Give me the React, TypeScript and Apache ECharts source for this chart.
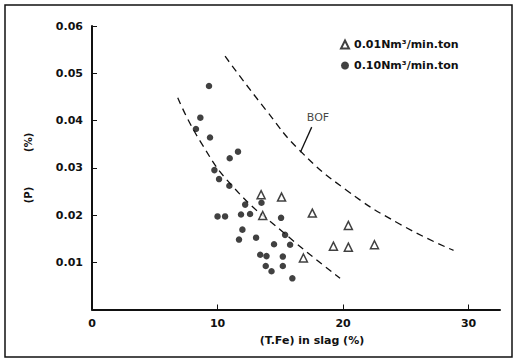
import React, { useEffect, useRef } from "react";
import * as echarts from "echarts";

const xTickLabels = [0, 10, 20, 30];
const yTickLabels = [0.01, 0.02, 0.03, 0.04, 0.05, 0.06];

const lowFlowLabel = "0.01Nm³/min.ton";
const highFlowLabel = "0.10Nm³/min.ton";

// triangles: 0.01 Nm3/min.ton
const lowFlowPoints: number[][] = [
  [13.47, 0.0243],
  [15.1, 0.0238],
  [13.6, 0.0199],
  [17.55, 0.0204],
  [20.42, 0.0178],
  [19.23, 0.0134],
  [20.42, 0.0132],
  [22.5, 0.0137],
  [16.84, 0.0109],
];

// dots: 0.10 Nm3/min.ton
const highFlowPoints: number[][] = [
  [9.32, 0.0473],
  [8.63, 0.0406],
  [8.28, 0.0382],
  [9.4, 0.0364],
  [11.63, 0.0334],
  [10.97, 0.032],
  [9.75, 0.0295],
  [10.12, 0.0276],
  [10.94, 0.0262],
  [12.2, 0.0222],
  [13.5, 0.0226],
  [10.0, 0.0197],
  [10.6, 0.0197],
  [11.87, 0.0201],
  [12.59, 0.0202],
  [15.06, 0.0194],
  [11.98, 0.0169],
  [11.71, 0.0148],
  [13.07, 0.0152],
  [15.38, 0.0158],
  [14.5, 0.0138],
  [15.78, 0.0137],
  [13.4, 0.0116],
  [13.9, 0.0113],
  [15.2, 0.0112],
  [13.84, 0.0092],
  [14.3, 0.0081],
  [15.2, 0.0092],
  [15.96, 0.0066],
];

const fitCurve: number[][] = [
  [6.83, 0.0448],
  [8.6, 0.0357],
  [11.26, 0.0259],
  [15.38, 0.016],
  [19.76, 0.0066],
];

const bofCurve: number[][] = [
  [10.6, 0.0536],
  [13.92, 0.042],
  [16.57, 0.0336],
  [20.3, 0.0252],
  [24.5, 0.0181],
  [28.8, 0.0125],
];

const bofLabelPoint: number[][] = [[18.0, 0.0406]];
const bofLeader: number[][] = [
  [17.5, 0.0386],
  [16.6, 0.0333],
];

const FONT = "DejaVu Sans";
const INK = "#111111";

export default function App() {
  const ref = useRef<HTMLDivElement>(null);
  useEffect(() => {
    if (!ref.current) return;
    const chart = echarts.init(ref.current, null, { renderer: "svg" });
    chart.setOption({
      animation: false,
      backgroundColor: "#ffffff",
      grid: { left: 92, right: 14, top: 26, bottom: 50.5 },
      legend: {
        orient: "vertical",
        left: 335,
        top: 34,
        itemWidth: 8,
        itemHeight: 8,
        itemGap: 10,
        textStyle: { fontFamily: FONT, fontSize: 11, fontWeight: "bold", color: INK },
        data: [
          { name: lowFlowLabel, icon: "triangle" },
          { name: highFlowLabel, icon: "circle" },
        ],
      },
      xAxis: {
        type: "value",
        min: 0,
        max: 32.5,
        interval: 10,
        splitLine: { show: false },
        axisLine: { show: true, onZero: false, lineStyle: { color: INK, width: 2 } },
        axisTick: { show: true, inside: true, length: 5, customValues: [10, 20, 30], lineStyle: { color: INK, width: 1 } },
        axisLabel: {
          customValues: xTickLabels,
          margin: 8,
          fontFamily: FONT,
          fontSize: 11,
          fontWeight: "bold",
          color: INK,
        },
      },
      yAxis: {
        type: "value",
        min: 0,
        max: 0.06,
        interval: 0.01,
        splitLine: { show: false },
        axisLine: { show: true, onZero: false, lineStyle: { color: INK, width: 2 } },
        axisTick: { show: true, inside: true, length: 5, customValues: yTickLabels, lineStyle: { color: INK, width: 1 } },
        axisLabel: {
          customValues: yTickLabels,
          margin: 9,
          fontFamily: FONT,
          fontSize: 11,
          fontWeight: "bold",
          color: INK,
          formatter: (v: number) => v.toFixed(2),
        },
      },
      series: [
        {
          name: lowFlowLabel,
          type: "scatter",
          symbol: "triangle",
          symbolSize: 8,
          itemStyle: { color: "#ffffff", borderColor: INK, borderWidth: 1.5 },
          data: lowFlowPoints,
          z: 5,
        },
        {
          name: highFlowLabel,
          type: "scatter",
          symbol: "circle",
          symbolSize: 6.5,
          itemStyle: { color: INK },
          data: highFlowPoints,
          z: 5,
        },
        {
          name: "fit",
          type: "line",
          smooth: true,
          showSymbol: false,
          symbol: "none",
          lineStyle: { color: INK, width: 1.3, type: [7, 5] },
          data: fitCurve,
        },
        {
          name: "BOF",
          type: "line",
          smooth: true,
          showSymbol: false,
          symbol: "none",
          lineStyle: { color: INK, width: 1.3, type: [7, 5] },
          data: bofCurve,
        },
        {
          name: "bofLeader",
          type: "line",
          showSymbol: false,
          symbol: "none",
          lineStyle: { color: INK, width: 1.3 },
          data: bofLeader,
        },
        {
          name: "bofLabel",
          type: "scatter",
          symbol: "rect",
          symbolSize: 2,
          itemStyle: { color: "rgba(0,0,0,0)" },
          data: bofLabelPoint,
          label: {
            show: true,
            position: "inside",
            formatter: "BOF",
            fontFamily: FONT,
            fontSize: 11,
            color: INK,
          },
          z: 6,
        },
      ],
      graphic: [
        {
          type: "rect",
          shape: { x: 5, y: 5, width: 507, height: 352 },
          style: { fill: "none", stroke: INK, lineWidth: 1.5 },
          silent: true,
        },
        {
          type: "text",
          x: 28,
          y: 168,
          rotation: Math.PI / 2,
          style: {
            text: "(P)          (%)",
            fontFamily: FONT,
            fontSize: 10,
            fontWeight: "bold",
            fill: INK,
            align: "center",
            verticalAlign: "middle",
          },
        },
        {
          type: "text",
          x: 312,
          y: 340,
          style: {
            text: "(T.Fe) in slag (%)",
            fontFamily: FONT,
            fontSize: 11,
            fontWeight: "bold",
            fill: INK,
            align: "center",
            verticalAlign: "middle",
          },
        },
      ],
    });
    return () => chart.dispose();
  }, []);
  return <div ref={ref} style={{ width: 514, height: 360, position: "absolute", left: 0, top: 0 }} />;
}
